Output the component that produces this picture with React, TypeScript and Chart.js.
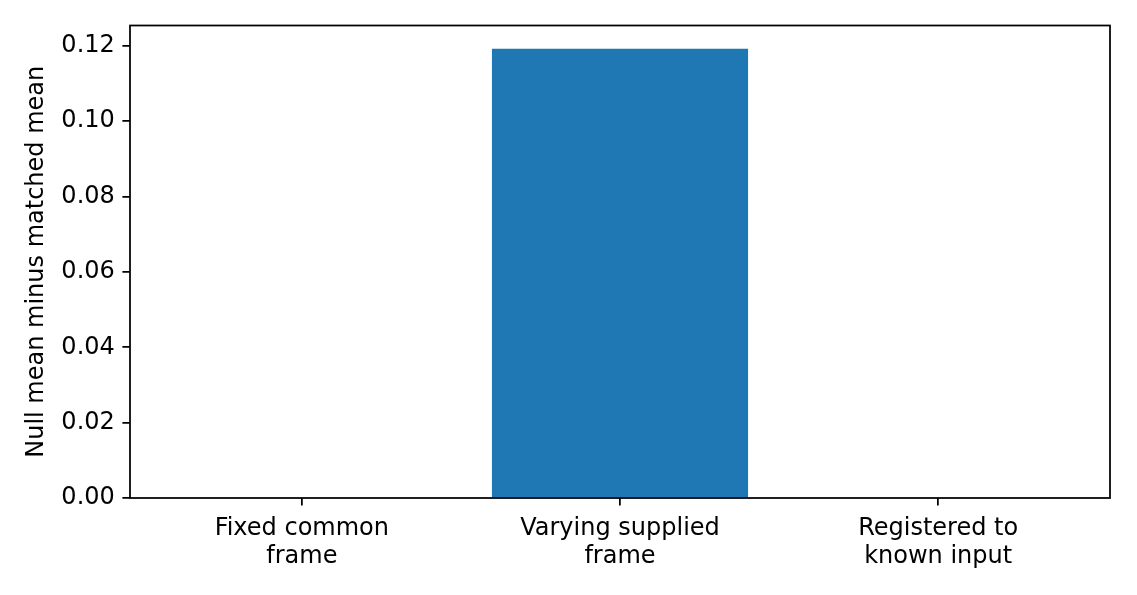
import { useEffect, useRef } from 'react';
import { Chart, registerables } from 'chart.js';

Chart.register(...registerables);

const categories: string[][] = [
  ['Fixed common', 'frame'],
  ['Varying supplied', 'frame'],
  ['Registered to', 'known input'],
];
const positions = [0, 1, 2];
const values = [0, 0.1192, 0];
const yTicks = [0, 0.02, 0.04, 0.06, 0.08, 0.1, 0.12];

const FONT = "'DejaVu Sans', sans-serif";
const FONT_SIZE = 24;
const LINE_W = 1.75;
const TICK_LEN = 7.6;

// draws the box around the plot area, like matplotlib's spines
const framePlugin = {
  id: 'frame',
  afterDatasetsDraw(chart: Chart) {
    const { ctx, chartArea } = chart;
    ctx.save();
    ctx.strokeStyle = '#000';
    ctx.lineWidth = LINE_W;
    ctx.strokeRect(chartArea.left, chartArea.top, chartArea.right - chartArea.left, chartArea.bottom - chartArea.top);
    ctx.restore();
  },
};

export default function App() {
  const chartRef = useRef<HTMLCanvasElement>(null);
  const chartInstance = useRef<Chart | null>(null);

  useEffect(() => {
    document.body.style.margin = '0';
    if (!chartRef.current) return;
    if (chartInstance.current) chartInstance.current.destroy();

    chartInstance.current = new Chart(chartRef.current, {
      type: 'bar',
      data: {
        datasets: [
          {
            data: positions.map((x, i) => ({ x, y: values[i] })),
            backgroundColor: '#1f77b4',
            borderWidth: 0,
            barPercentage: 0.805,
            categoryPercentage: 1,
          },
        ],
      },
      options: {
        responsive: false,
        animation: false,
        devicePixelRatio: 1,
        layout: { padding: { left: 0, top: 25.5, right: 27, bottom: 0 } },
        plugins: { legend: { display: false }, tooltip: { enabled: false } },
        scales: {
          x: {
            type: 'linear',
            min: -0.54,
            max: 2.54,
            offset: false,
            afterBuildTicks: (scale: any) => {
              scale.ticks = positions.map((v) => ({ value: v }));
            },
            afterFit: (scale: any) => {
              scale.height = 595 - 498;
            },
            ticks: {
              autoSkip: false,
              maxRotation: 0,
              color: '#000',
              padding: 9.5,
              font: { family: FONT, size: FONT_SIZE, lineHeight: 1.15 },
              callback: (v: any) => categories[positions.indexOf(Number(v))] ?? '',
            },
            grid: {
              offset: false,
              drawOnChartArea: false,
              drawTicks: true,
              tickLength: TICK_LEN,
              color: '#000',
              lineWidth: LINE_W,
            },
            border: { display: false },
          },
          y: {
            min: 0,
            max: 0.1254,
            afterBuildTicks: (scale: any) => {
              scale.ticks = yTicks.map((v) => ({ value: v }));
            },
            afterFit: (scale: any) => {
              scale.width = 130;
            },
            ticks: {
              color: '#000',
              padding: 7.6,
              font: { family: FONT, size: FONT_SIZE },
              callback: (v: any) => Number(v).toFixed(2),
            },
            grid: {
              drawOnChartArea: false,
              drawTicks: true,
              tickLength: TICK_LEN,
              color: '#000',
              lineWidth: LINE_W,
            },
            border: { display: false },
            title: {
              display: true,
              text: 'Null mean minus matched mean',
              color: '#000',
              font: { family: FONT, size: FONT_SIZE },
              padding: { top: 22.6, bottom: 0 },
            },
          },
        },
      },
      plugins: [framePlugin],
    });

    return () => {
      if (chartInstance.current) {
        chartInstance.current.destroy();
        chartInstance.current = null;
      }
    };
  }, []);

  return (
    <div style={{ width: 1137, height: 595 }}>
      <canvas ref={chartRef} width={1137} height={595} />
    </div>
  );
}
